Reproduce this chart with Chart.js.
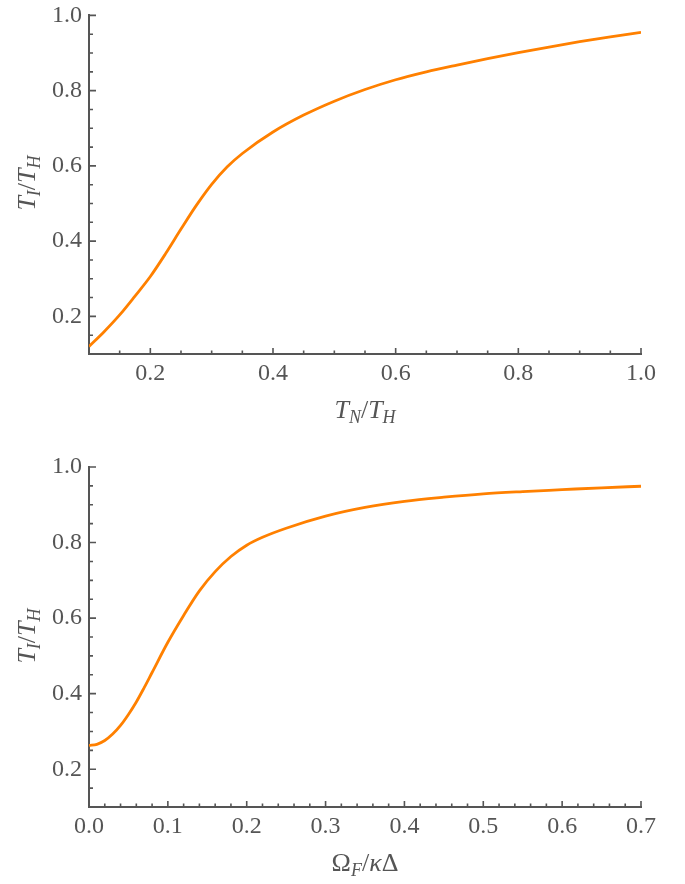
<!DOCTYPE html>
<html>
<head>
<meta charset="utf-8">
<script src="https://cdn.jsdelivr.net/npm/chart.js@4.4.0/dist/chart.umd.min.js"></script>
<style>
  html, body { margin: 0; padding: 0; background: #fff; }
  #wrap { position: relative; width: 685px; height: 884px; overflow: hidden;
          font-family: "Liberation Serif", "DejaVu Serif", serif; color: #555; }
  .panel { position: absolute; left: 0; width: 685px; }
  .title { position: absolute; font-size: 26px; line-height: 30px; height: 30px;
           text-align: center; white-space: nowrap; }
  .title sub { font-size: 18px; vertical-align: -5px; line-height: 0; }
  .ytitle { width: 200px; transform: rotate(-90deg); }
</style>
</head>
<body>
<div id="wrap">
  <canvas id="topChart" class="panel" style="top:-6px; height:448px" width="685" height="448"></canvas>
  <canvas id="bottomChart" class="panel" style="top:442px; height:442px" width="685" height="442"></canvas>

  <div class="title ytitle" style="left:-73px; top:168px"><i>T</i><sub><i>I</i></sub>/<i>T</i><sub><i>H</i></sub></div>
  <div class="title" style="left:89px; top:395px; width:552px"><i>T</i><sub><i>N</i></sub>/<i>T</i><sub><i>H</i></sub></div>

  <div class="title ytitle" style="left:-73px; top:621px"><i>T</i><sub><i>I</i></sub>/<i>T</i><sub><i>H</i></sub></div>
  <div class="title" style="left:89px; top:848px; width:552px">Ω<sub><i>F</i></sub>/<i>κ</i>Δ</div>
</div>

<script>
// top panel: T_I/T_H against T_N/T_H
const topX = [0.10, 0.125, 0.15, 0.175, 0.20, 0.225, 0.25, 0.275, 0.30, 0.325, 0.35,
              0.40, 0.45, 0.50, 0.55, 0.60, 0.65, 0.70, 0.75, 0.80, 0.85, 0.90, 0.95, 1.00];
const topY = [0.120, 0.160, 0.204, 0.254, 0.306, 0.367, 0.432, 0.495, 0.551, 0.597, 0.633,
              0.690, 0.735, 0.772, 0.803, 0.829, 0.850, 0.868, 0.885, 0.901, 0.916, 0.930, 0.943, 0.955];
const topXTicks = [0.2, 0.4, 0.6, 0.8, 1.0];

// bottom panel: T_I/T_H against Omega_F/(kappa Delta)
const bottomX = [0.00, 0.01, 0.02, 0.03, 0.04, 0.05, 0.06, 0.07, 0.08, 0.10, 0.12, 0.14, 0.16, 0.18, 0.20, 0.22,
                 0.25, 0.30, 0.35, 0.40, 0.45, 0.50, 0.55, 0.60, 0.65, 0.70];
const bottomY = [0.263, 0.266, 0.276, 0.293, 0.316, 0.345, 0.378, 0.416, 0.456, 0.536, 0.607, 0.672, 0.723, 0.763, 0.793, 0.814,
                 0.838, 0.870, 0.893, 0.909, 0.920, 0.929, 0.935, 0.940, 0.945, 0.949];
const bottomXTicks = [0.0, 0.1, 0.2, 0.3, 0.4, 0.5, 0.6, 0.7];

const yTicks = [0.2, 0.4, 0.6, 0.8, 1.0];

const axisColor = '#555';
const curveColor = '#ff8000';
const tickFont = { family: '"Liberation Serif", "DejaVu Serif", serif', size: 24 };

// Mathematica-style tick marks that point into the plot
const innerTicks = {
  id: 'innerTicks',
  afterDraw(chart, args, opts) {
    const { ctx, chartArea: a, scales: { x, y } } = chart;
    const isMajor = (list, v) => list.some(m => Math.abs(m - v) < 1e-9);
    ctx.save();
    ctx.strokeStyle = axisColor;
    ctx.lineWidth = 1.6;
    ctx.beginPath();
    for (let i = Math.ceil(x.min / opts.xMinor - 1e-9); i * opts.xMinor <= x.max + 1e-9; i++) {
      const v = i * opts.xMinor;
      const px = x.getPixelForValue(v);
      const len = isMajor(opts.xMajor, v) ? 6 : 3.5;
      ctx.moveTo(px, a.bottom);
      ctx.lineTo(px, a.bottom - len);
    }
    for (let i = Math.ceil(y.min / opts.yMinor - 1e-9); i * opts.yMinor <= y.max + 1e-9; i++) {
      const v = i * opts.yMinor;
      const py = y.getPixelForValue(v);
      const len = isMajor(yTicks, v) ? 7 : 4;
      ctx.moveTo(a.left, py);
      ctx.lineTo(a.left + len, py);
    }
    ctx.stroke();
    ctx.restore();
  }
};

function makeChart(id, xs, ys, xMin, xMax, xTicks, xMinor, padTop, xHeight) {
  return new Chart(document.getElementById(id), {
    type: 'line',
    data: {
      datasets: [{
        data: xs.map((v, i) => ({ x: v, y: ys[i] })),
        borderColor: curveColor,
        borderWidth: 2.8,
        pointRadius: 0,
        cubicInterpolationMode: 'monotone',
        fill: false
      }]
    },
    options: {
      responsive: false,
      animation: false,
      events: [],
      layout: { padding: { top: padTop, right: 44, left: 0, bottom: 0 } },
      plugins: {
        legend: { display: false },
        tooltip: { enabled: false },
        innerTicks: { xMinor: xMinor, xMajor: xTicks, yMinor: 0.05 }
      },
      scales: {
        x: {
          type: 'linear',
          min: xMin,
          max: xMax,
          afterBuildTicks: s => { s.ticks = xTicks.map(v => ({ value: v })); },
          afterFit: s => { s.height = xHeight; },
          ticks: { font: tickFont, color: axisColor, padding: 5, autoSkip: false, maxRotation: 0,
                   callback: v => v.toFixed(1) },
          grid: { display: true, drawOnChartArea: false, drawTicks: false },
          border: { display: true, color: axisColor, width: 2 }
        },
        y: {
          type: 'linear',
          min: 0.1,
          max: 1.0,
          afterBuildTicks: s => { s.ticks = yTicks.map(v => ({ value: v })); },
          afterFit: s => { s.width = 89; },
          ticks: { font: tickFont, color: axisColor, padding: 7, autoSkip: false,
                   callback: v => v.toFixed(1) },
          grid: { display: true, drawOnChartArea: false, drawTicks: false },
          border: { display: true, color: axisColor, width: 2 }
        }
      }
    },
    plugins: [innerTicks]
  });
}

makeChart('topChart', topX, topY, 0.1, 1.0, topXTicks, 0.05, 0, 88);
makeChart('bottomChart', bottomX, bottomY, 0.0, 0.7, bottomXTicks, 0.02, 25, 77);
</script>
</body>
</html>
